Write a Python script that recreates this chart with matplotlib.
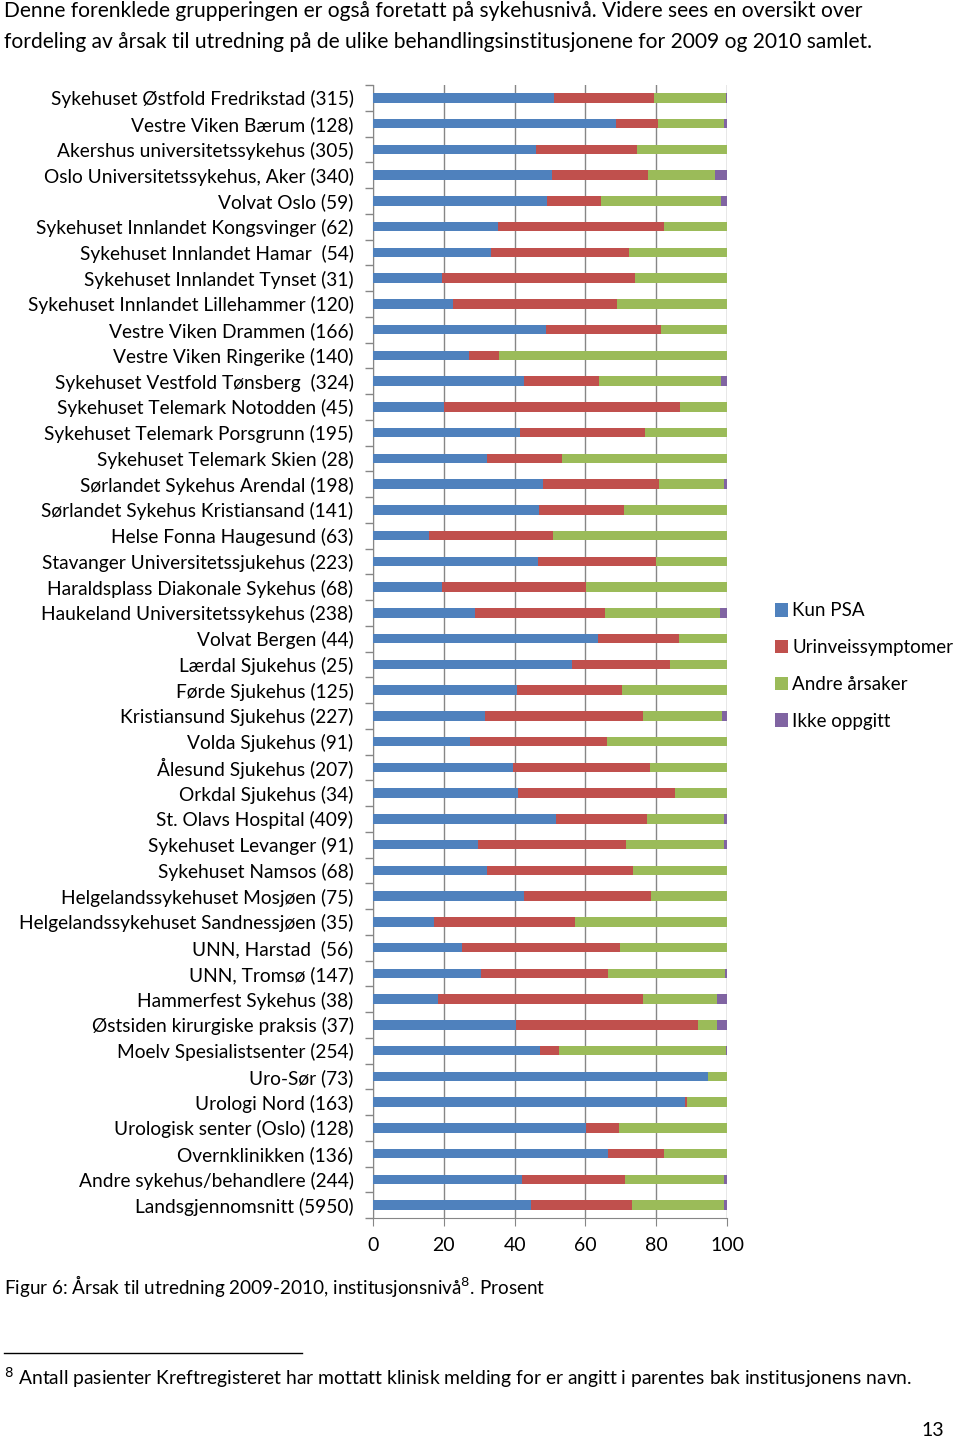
import matplotlib.pyplot as plt
from matplotlib.patches import Patch

plt.rcParams['font.family'] = ['Lato', 'DejaVu Sans']

institutions = [
    "Sykehuset Østfold Fredrikstad (315)",
    "Vestre Viken Bærum (128)",
    "Akershus universitetssykehus (305)",
    "Oslo Universitetssykehus, Aker (340)",
    "Volvat Oslo (59)",
    "Sykehuset Innlandet Kongsvinger (62)",
    "Sykehuset Innlandet Hamar  (54)",
    "Sykehuset Innlandet Tynset (31)",
    "Sykehuset Innlandet Lillehammer (120)",
    "Vestre Viken Drammen (166)",
    "Vestre Viken Ringerike (140)",
    "Sykehuset Vestfold Tønsberg  (324)",
    "Sykehuset Telemark Notodden (45)",
    "Sykehuset Telemark Porsgrunn (195)",
    "Sykehuset Telemark Skien (28)",
    "Sørlandet Sykehus Arendal (198)",
    "Sørlandet Sykehus Kristiansand (141)",
    "Helse Fonna Haugesund (63)",
    "Stavanger Universitetssjukehus (223)",
    "Haraldsplass Diakonale Sykehus (68)",
    "Haukeland Universitetssykehus (238)",
    "Volvat Bergen (44)",
    "Lærdal Sjukehus (25)",
    "Førde Sjukehus (125)",
    "Kristiansund Sjukehus (227)",
    "Volda Sjukehus (91)",
    "Ålesund Sjukehus (207)",
    "Orkdal Sjukehus (34)",
    "St. Olavs Hospital (409)",
    "Sykehuset Levanger (91)",
    "Sykehuset Namsos (68)",
    "Helgelandssykehuset Mosjøen (75)",
    "Helgelandssykehuset Sandnessjøen (35)",
    "UNN, Harstad  (56)",
    "UNN, Tromsø (147)",
    "Hammerfest Sykehus (38)",
    "Østsiden kirurgiske praksis (37)",
    "Moelv Spesialistsenter (254)",
    "Uro-Sør (73)",
    "Urologi Nord (163)",
    "Urologisk senter (Oslo) (128)",
    "Overnklinikken (136)",
    "Andre sykehus/behandlere (244)",
    "Landsgjennomsnitt (5950)",
]

kun_psa = [51.2, 68.6, 46.1, 50.6, 49.1, 35.4, 33.3, 19.5, 22.5, 48.9, 27.2,
           42.7, 20.1, 41.5, 32.1, 48.0, 46.8, 15.9, 46.6, 19.4, 28.9, 63.7,
           56.1, 40.8, 31.6, 27.3, 39.5, 41.1, 51.7, 29.8, 32.3, 42.7, 17.1,
           25.0, 30.5, 18.3, 40.5, 47.1, 94.5, 88.1, 60.2, 66.3, 42.1, 44.5]
urinveis = [28.3, 11.8, 28.6, 27.0, 15.3, 46.7, 38.9, 54.6, 46.5, 32.4, 8.4,
            21.1, 66.5, 35.4, 21.3, 32.7, 24.1, 34.9, 33.3, 40.8, 36.6, 22.6,
            27.9, 29.5, 44.6, 38.7, 38.8, 44.1, 25.6, 41.6, 41.2, 35.9, 39.9,
            44.7, 35.9, 57.9, 51.2, 5.4, 0.0, 0.7, 9.3, 16.0, 29.0, 28.6]
andre = [20.1, 18.8, 25.3, 18.9, 34.0, 17.9, 27.8, 25.9, 31.0, 18.7, 64.4,
         34.4, 13.4, 23.1, 46.6, 18.4, 29.1, 49.2, 20.1, 39.8, 32.5, 13.7,
         16.0, 29.7, 22.4, 34.0, 21.7, 14.8, 21.8, 27.7, 26.5, 21.4, 43.0,
         30.3, 33.1, 21.1, 5.6, 47.1, 5.5, 11.2, 30.5, 17.7, 28.1, 26.1]
ikke = [0.4, 0.8, 0.0, 3.5, 1.6, 0.0, 0.0, 0.0, 0.0, 0.0, 0.0,
        1.8, 0.0, 0.0, 0.0, 0.9, 0.0, 0.0, 0.0, 0.0, 2.0, 0.0,
        0.0, 0.0, 1.4, 0.0, 0.0, 0.0, 0.9, 0.9, 0.0, 0.0, 0.0,
        0.0, 0.5, 2.7, 2.7, 0.4, 0.0, 0.0, 0.0, 0.0, 0.8, 0.8]

series_names = ["Kun PSA", "Urinveissymptomer", "Andre årsaker", "Ikke oppgitt"]
colors = ["#4F81BD", "#C0504D", "#9BBB59", "#8064A2"]

fig = plt.figure(figsize=(9.6, 14.38), dpi=100)
ax = fig.add_axes([373 / 960, 1 - 1218 / 1438, 354 / 960, 1133 / 1438])

y = list(range(len(institutions)))
left = [0.0] * len(institutions)
for vals, col in zip([kun_psa, urinveis, andre, ikke], colors):
    ax.barh(y, vals, left=left, height=0.37, color=col, zorder=3)
    left = [a + b for a, b in zip(left, vals)]

ax.set_xlim(0, 100)
ax.set_ylim(len(institutions) - 0.5, -0.5)
ax.set_xticks([0, 20, 40, 60, 80, 100])
ax.set_yticks(y)
ax.set_yticklabels(institutions, fontsize=13.8)
ax.set_yticks([i - 0.5 for i in range(len(institutions) + 1)], minor=True)
ax.tick_params(axis='y', which='major', length=0, pad=14)
ax.tick_params(axis='y', which='minor', length=6, color='#868686', width=1)
ax.tick_params(axis='x', length=6, color='#868686', labelsize=14, pad=8)
ax.grid(axis='x', color='#868686', linewidth=1, zorder=0)
for s in ['top', 'right']:
    ax.spines[s].set_visible(False)
for s in ['left', 'bottom']:
    ax.spines[s].set_color('#868686')

handles = [Patch(facecolor=c, edgecolor='none') for c in colors]
fig.legend(handles, series_names, loc='upper left', bbox_to_anchor=(767 / 960, 1 - 595 / 1438),
           frameon=False, fontsize=13.5, handlelength=0.7, handleheight=0.7,
           handletextpad=0.25, labelspacing=1.05, borderaxespad=0)

fig.text(4 / 960, 1 - 11 / 1438,
         "Denne forenklede grupperingen er også foretatt på sykehusnivå. Videre sees en oversikt over",
         fontsize=15.1, va='center', ha='left')
fig.text(4 / 960, 1 - 42 / 1438,
         "fordeling av årsak til utredning på de ulike behandlingsinstitusjonene for 2009 og 2010 samlet.",
         fontsize=15.1, va='center', ha='left')
fig.text(4 / 960, 1 - 1286 / 1438,
         "Figur 6: Årsak til utredning 2009-2010, institusjonsnivå$^{8}$. Prosent",
         fontsize=13.6, va='center', ha='left')
fig.add_artist(plt.Line2D([4 / 960, 302 / 960], [1 - 1353 / 1438, 1 - 1353 / 1438],
                          color='black', linewidth=1))
fig.text(4 / 960, 1 - 1378 / 1438,
         "$^{8}$ Antall pasienter Kreftregisteret har mottatt klinisk melding for er angitt i parentes bak institusjonens navn.",
         fontsize=13.9, va='center', ha='left')
fig.text(944 / 960, 1 - 1430 / 1438, "13", fontsize=14, va='center', ha='right')

fig.savefig("out.png", dpi=100, facecolor='white')
